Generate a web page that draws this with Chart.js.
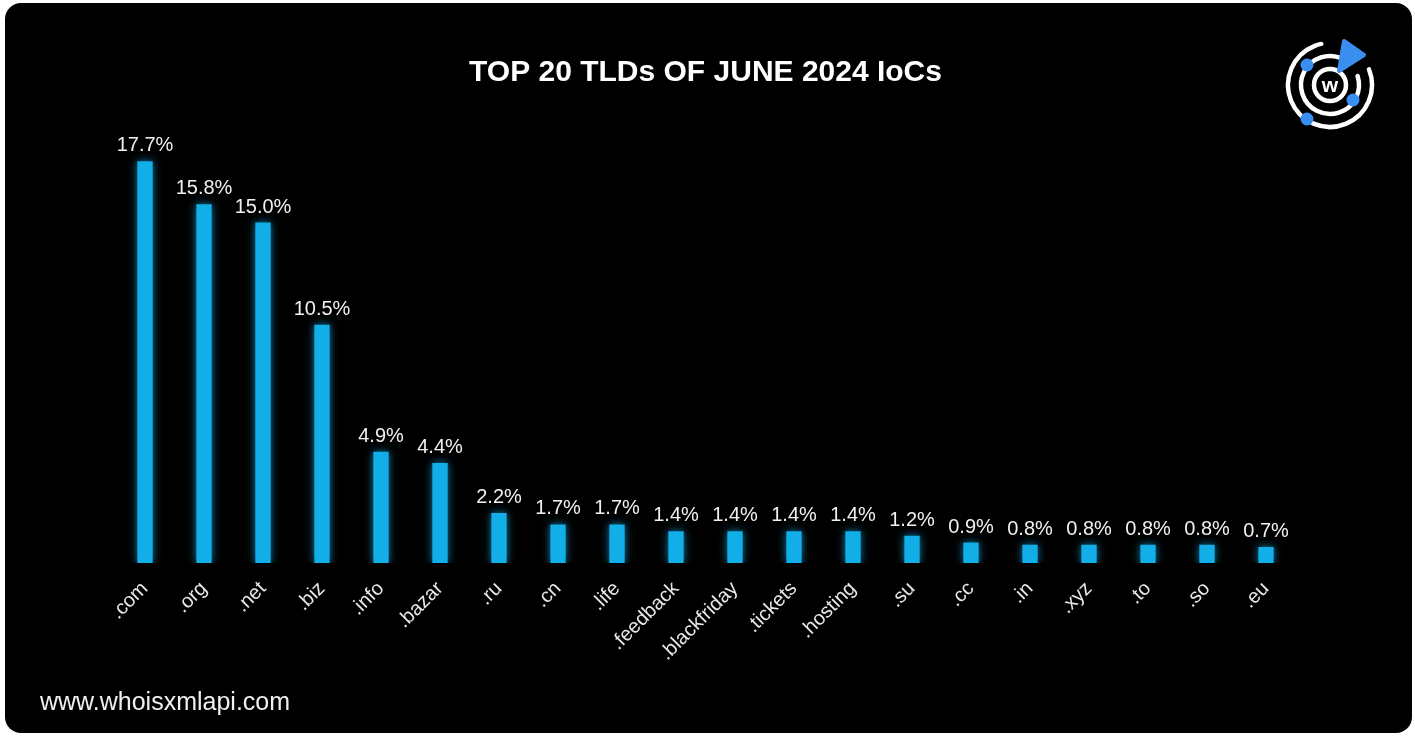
<!DOCTYPE html>
<html>
<head>
<meta charset="utf-8">
<script src="https://cdn.jsdelivr.net/npm/chart.js@4/dist/chart.umd.min.js"></script>
<style>
  html, body { margin: 0; padding: 0; background: #ffffff; }
  #card {
    position: absolute; left: 5px; top: 3px; width: 1407px; height: 730px;
    background: #000; border-radius: 16px; overflow: hidden;
  }
  #card canvas { display: block; }
</style>
</head>
<body>
<div id="card"><canvas id="chart" width="1407" height="730"></canvas></div>
<script>
const tlds = ['.com', '.org', '.net', '.biz', '.info', '.bazar', '.ru', '.cn', '.life', '.feedback',
  '.blackfriday', '.tickets', '.hosting', '.su', '.cc', '.in', '.xyz', '.to', '.so', '.eu'];
const shares = [17.7, 15.8, 15.0, 10.5, 4.9, 4.4, 2.2, 1.7, 1.7, 1.4,
  1.4, 1.4, 1.4, 1.2, 0.9, 0.8, 0.8, 0.8, 0.8, 0.7];
const chartTitle = 'TOP 20 TLDs OF JUNE 2024 IoCs';
const footerText = 'www.whoisxmlapi.com';

const BAR_BLUE = '#12aee8';
const FONT = '"Liberation Sans", Arial, Helvetica, sans-serif';

// soft neon glow around each bar
const glowPlugin = {
  id: 'glow',
  beforeDatasetsDraw(chart) {
    const ctx = chart.ctx;
    ctx.save();
    ctx.shadowColor = 'rgba(18,174,232,0.75)';
    ctx.shadowBlur = 9;
  },
  afterDatasetsDraw(chart) {
    chart.ctx.restore();
  }
};

// percentage labels above bars
const valueLabels = {
  id: 'valueLabels',
  afterDatasetsDraw(chart) {
    const ctx = chart.ctx;
    const meta = chart.getDatasetMeta(0);
    ctx.save();
    ctx.fillStyle = '#f0f0f0';
    ctx.font = '20px ' + FONT;
    ctx.textAlign = 'center';
    ctx.textBaseline = 'alphabetic';
    meta.data.forEach((bar, i) => {
      ctx.fillText(shares[i].toFixed(1) + '%', bar.x, bar.y - 10);
    });
    ctx.restore();
  }
};

// site address and brand mark
const brandPlugin = {
  id: 'brand',
  afterDraw(chart) {
    const ctx = chart.ctx;
    ctx.save();
    ctx.fillStyle = '#f0f0f0';
    ctx.font = '25px ' + FONT;
    ctx.textAlign = 'left';
    ctx.textBaseline = 'middle';
    ctx.fillText(footerText, 35, 700);

    const cx = 1325, cy = 82;
    const rad = d => d * Math.PI / 180;
    ctx.strokeStyle = '#ffffff';
    ctx.lineCap = 'round';
    ctx.lineWidth = 4.5;
    // outer ring, open at the top right
    ctx.beginPath(); ctx.arc(cx, cy, 42, rad(-22), rad(258)); ctx.stroke();
    // middle ring, open under the pointer
    ctx.beginPath(); ctx.arc(cx, cy, 29, rad(-18), rad(288)); ctx.stroke();
    // ring around the letter
    ctx.beginPath(); ctx.arc(cx, cy, 16, 0, Math.PI * 2); ctx.stroke();

    ctx.fillStyle = '#3a8ef0';
    [[-23, -20], [23, 15], [-23, 34]].forEach(([dx, dy]) => {
      ctx.beginPath(); ctx.arc(cx + dx, cy + dy, 6.5, 0, Math.PI * 2); ctx.fill();
    });
    // pointer
    ctx.lineJoin = 'round';
    ctx.strokeStyle = '#3a8ef0';
    ctx.lineWidth = 4;
    ctx.beginPath();
    ctx.moveTo(cx + 14, cy - 44);
    ctx.lineTo(cx + 34, cy - 30);
    ctx.lineTo(cx + 9, cy - 14);
    ctx.closePath();
    ctx.fill();
    ctx.stroke();

    ctx.fillStyle = '#ffffff';
    ctx.font = 'bold 21px ' + FONT;
    ctx.textAlign = 'center';
    ctx.textBaseline = 'middle';
    ctx.fillText('w', cx, cy + 1);
    ctx.restore();
  }
};

new Chart(document.getElementById('chart'), {
  type: 'bar',
  data: {
    labels: tlds,
    datasets: [{
      data: shares,
      backgroundColor: BAR_BLUE,
      borderWidth: 0,
      barPercentage: 0.26,
      categoryPercentage: 1.0
    }]
  },
  options: {
    responsive: false,
    animation: false,
    layout: { padding: { left: 110.5, right: 116.5, top: 0, bottom: 0 } },
    plugins: {
      legend: { display: false },
      tooltip: { enabled: false },
      title: {
        display: true,
        text: chartTitle,
        color: '#ffffff',
        font: { family: FONT, size: 30, weight: 'bold', lineHeight: 1.2 },
        padding: { top: 52, bottom: 18 }
      }
    },
    scales: {
      x: {
        grid: { display: false },
        border: { display: false },
        ticks: {
          color: '#e8e8e8',
          font: { family: FONT, size: 20 },
          minRotation: 45,
          maxRotation: 45,
          padding: 6
        },
        afterFit(scale) { scale.height = 170; }
      },
      y: {
        display: false,
        min: 0,
        max: 20
      }
    }
  },
  plugins: [glowPlugin, valueLabels, brandPlugin]
});
</script>
</body>
</html>
